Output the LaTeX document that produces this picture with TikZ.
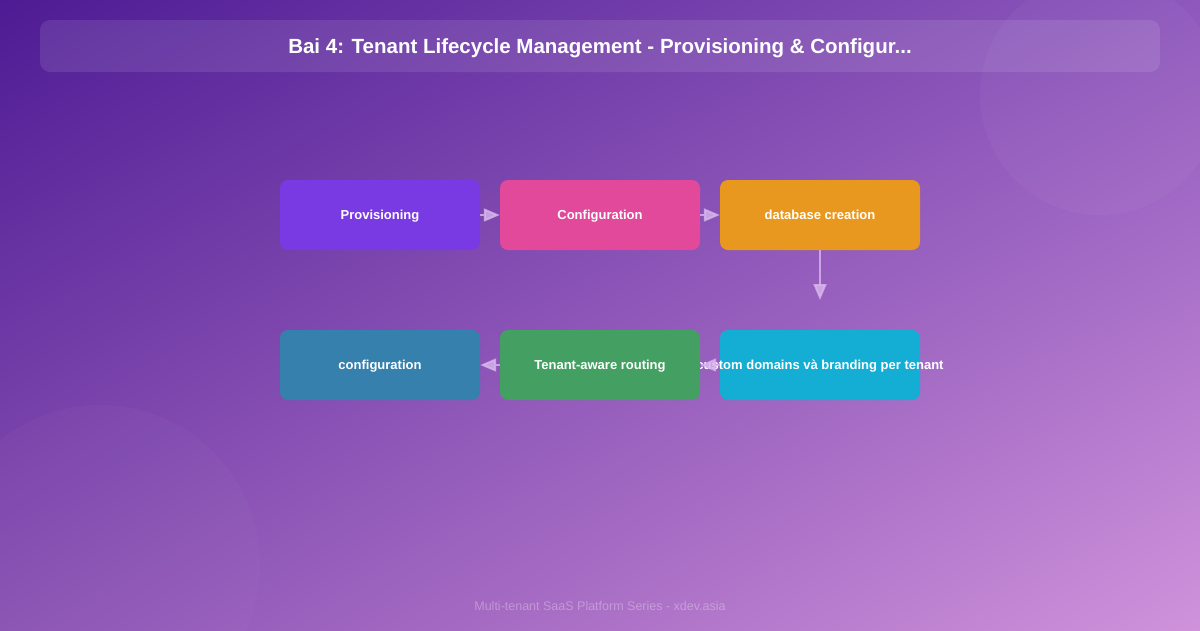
\documentclass[tikz,border=0pt]{standalone}
\usepackage{fontspec}
\setmainfont{Liberation Sans}
\usetikzlibrary{arrows.meta,shadings}
\definecolor{bgTL}{HTML}{4E1B94}
\definecolor{bgTR}{HTML}{8E58BC}
\definecolor{bgBL}{HTML}{8A52B4}
\definecolor{bgBR}{HTML}{CF92DB}
\definecolor{cProv}{HTML}{7A3AE3}
\definecolor{cConf}{HTML}{E2499A}
\definecolor{cDb}{HTML}{E9981F}
\definecolor{cDom}{HTML}{14ADD4}
\definecolor{cRout}{HTML}{449F62}
\definecolor{cCfg}{HTML}{3680AD}
\definecolor{arrowc}{HTML}{D9B6EE}
\tikzset{
  stepbox/.style={rounded corners=8pt, minimum width=200pt, minimum height=70pt,
    inner sep=0pt, text=white, font=\fontsize{13}{15}\selectfont\bfseries, draw=none},
  flow/.style={draw=arrowc, opacity=0.8, line width=2pt,
    -{Triangle[length=16pt,width=13pt,fill=arrowc]}, shorten >=0pt},
}
\newcommand{\boxtxt}[1]{\makebox[0pt][c]{\smash{\raisebox{-4.5pt}{#1}}}}
\begin{document}
\begin{tikzpicture}[x=1pt,y=-1pt]
\useasboundingbox (0,0) rectangle (1200,630);
\shade[upper left=bgTL, upper right=bgTR, lower left=bgBL, lower right=bgBR] (0,0) rectangle (1200,630);
% decorative circles
\fill[white, opacity=0.03] (1100,95) circle (120);
\fill[white, opacity=0.025] (100,565) circle (160);
% title bar
\fill[white, opacity=0.1, rounded corners=10pt] (40,20) rectangle (1160,72);
\node[text=white, font=\fontsize{20.5}{23}\selectfont\bfseries] (title) at (600,48)
  {Bai 4: Tenant Lifecycle Management - Provisioning \& Configur...};
% boxes
\node[stepbox, fill=cProv] (prov) at (380,215) {\boxtxt{Provisioning}};
\node[stepbox, fill=cConf] (conf) at (600,215) {\boxtxt{Configuration}};
\node[stepbox, fill=cDb] (db) at (820,215) {\boxtxt{database creation}};
\node[stepbox, fill=cDom] (dom) at (820,365) {\boxtxt{custom domains và branding per tenant}};
\node[stepbox, fill=cRout] (rout) at (600,365) {\boxtxt{Tenant-aware routing}};
\node[stepbox, fill=cCfg] (cfg) at (380,365) {\boxtxt{configuration}};
\coordinate (downend) at (820,300);
% connectors
\draw[flow] (prov.east) -- (conf.west);
\draw[flow] (conf.east) -- (db.west);
\draw[flow] (db.south) -- (downend);
\draw[flow] (dom.west) -- (rout.east);
\draw[flow] (rout.west) -- (cfg.east);
% footer
\node[text=white, text opacity=0.3, font=\fontsize{12.5}{15}\selectfont] (footer) at (600,606)
  {Multi-tenant SaaS Platform Series - xdev.asia};
\end{tikzpicture}
\end{document}
